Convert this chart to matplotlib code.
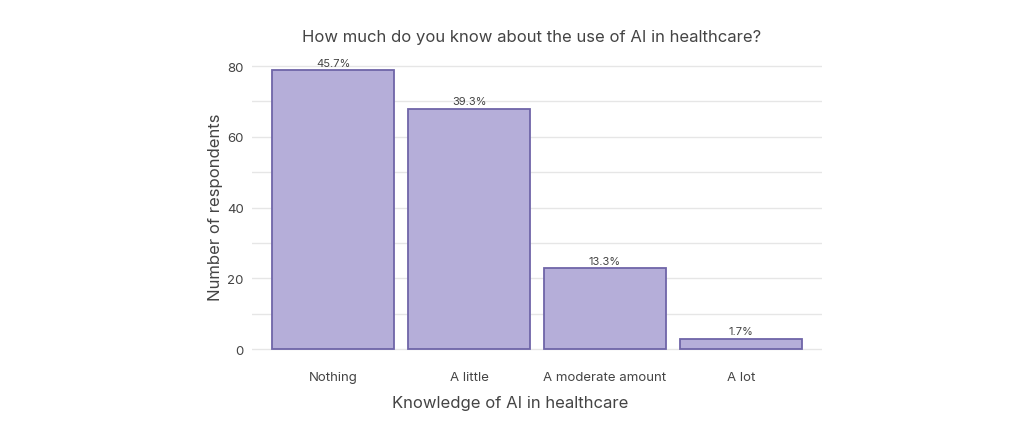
import matplotlib
matplotlib.use("Agg")
import matplotlib.pyplot as plt
from matplotlib.ticker import MultipleLocator

categories = ["Nothing", "A little", "A moderate amount", "A lot"]
counts = [79, 68, 23, 3]
pct_labels = ["45.7%", "39.3%", "13.3%", "1.7%"]

plt.rcParams['font.family'] = ['Inter', 'DejaVu Sans']
text_color = "#444444"

fig = plt.figure(figsize=(10.24, 4.35), dpi=100)
ax = fig.add_axes([0.246, 0.187, 0.557, 0.675])

bars = ax.bar(range(len(categories)), counts, width=0.9,
              color="#b5aed9", edgecolor="#6f65a8", linewidth=1.3, zorder=3)
for b, lab in zip(bars, pct_labels):
    ax.text(b.get_x() + b.get_width() / 2, b.get_height() + 0.6, lab,
            ha="center", va="bottom", fontsize=8, color=text_color, zorder=4)

ax.set_xlim(-0.6, 3.6)
ax.set_ylim(-1, 82)
ax.yaxis.set_major_locator(MultipleLocator(20))
ax.yaxis.set_minor_locator(MultipleLocator(10))
ax.grid(axis="y", which="both", color="#e6e6e6", linewidth=1, zorder=0)
ax.set_xticks(range(len(categories)))
ax.set_xticklabels(categories)
ax.tick_params(axis="both", which="both", length=0, labelsize=9.5, colors=text_color)
ax.tick_params(axis="x", pad=13)
ax.tick_params(axis="y", pad=6)
for s in ax.spines.values():
    s.set_visible(False)

ax.set_title("How much do you know about the use of AI in healthcare?",
             fontsize=12, color=text_color, pad=13, x=0.4895)
ax.set_xlabel("Knowledge of AI in healthcare", fontsize=12, color=text_color, labelpad=9)
ax.xaxis.label.set_x(0.452)
ax.set_ylabel("Number of respondents", fontsize=12, color=text_color, labelpad=3)

fig.savefig("out.png", dpi=100, facecolor="white")
